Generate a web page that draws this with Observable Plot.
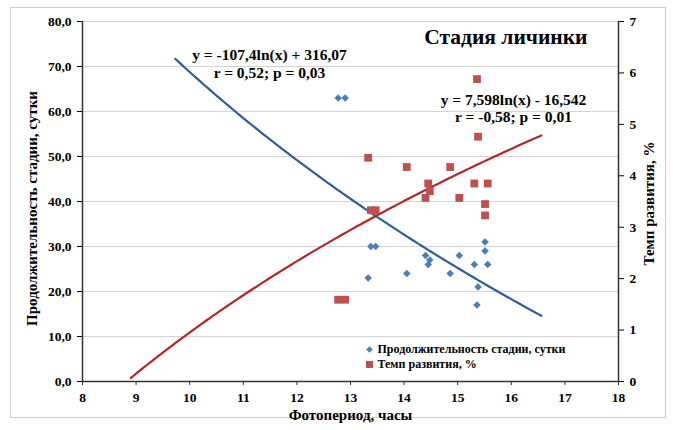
<!DOCTYPE html>
<html>
<head>
<meta charset="utf-8">
<script src="https://cdn.jsdelivr.net/npm/d3@7"></script>
<script src="https://cdn.jsdelivr.net/npm/@observablehq/plot@0.6"></script>
<style>
  html, body { margin: 0; padding: 0; background: #fff; }
  #wrap { position: relative; width: 673px; height: 430px; }
  #border { position: absolute; left: 10px; top: 7px; width: 656px; height: 411px; border: 1px solid #cfcfcf; box-sizing: border-box; pointer-events: none; }
</style>
</head>
<body>
<div id="wrap"><div id="border"></div></div>
<script>
// ---- data ----
const photoperiod = [12.77, 12.90, 13.38, 13.47, 13.33, 14.05, 14.40, 14.48, 14.45, 14.86, 15.03, 15.31, 15.38, 15.36, 15.51, 15.51, 15.56];
const duration    = [63, 63, 30, 30, 23, 24, 28, 27, 26, 24, 28, 26, 21, 17, 31, 29, 26];
const rate        = [1.59, 1.59, 3.33, 3.33, 4.35, 4.17, 3.57, 3.70, 3.85, 4.17, 3.57, 3.85, 4.76, 5.88, 3.23, 3.45, 3.85];

// trendline equations printed on the chart: y = a*ln(x) + b
const durTrend  = [-107.4, 316.07];   // a, b
const durRange  = [9.73, 16.56];
const rateTrend = [7.598, -16.542];
const rateRange = [8.9, 16.56];

const xTicks = [8, 9, 10, 11, 12, 13, 14, 15, 16, 17, 18];
const yTicks = [0, 10, 20, 30, 40, 50, 60, 70, 80];
const rTicks = [0, 1, 2, 3, 4, 5, 6, 7];

const titleText = "Стадия личинки";
const xLabel = "Фотопериод, часы";
const yLabel = "Продолжительность стадии, сутки";
const rLabel = "Темп развития, %";
const eq1 = ["y = -107,4ln(x) + 316,07", "r = 0,52; p = 0,03"];
const eq2 = ["y = 7,598ln(x) - 16,542", "r = -0,58; p = 0,01"];
const legendLabels = ["Продолжительность стадии, сутки", "Темп развития, %"];

// ---- derived ----
const Y_MAX = 80, R_MAX = 7;
const toY = v => v * Y_MAX / R_MAX;
const points = photoperiod.map((x, i) => ({x, dur: duration[i], rate: rate[i]}));
function trend([a, b], [x0, x1]) {
  const n = 120, out = [];
  for (let i = 0; i <= n; i++) { const x = x0 + (x1 - x0) * i / n; out.push({x, y: a * Math.log(x) + b}); }
  return out;
}
const durLine = trend(durTrend, durRange);
const rateLine = trend(rateTrend, rateRange).map(d => ({x: d.x, y: toY(d.y)}));

const BLUE = "#4a7ebb", BLUE_LINE = "#2f5d9b";
const RED = "#c0504d", RED_LINE = "#b0282a";
const FONT = "'Liberation Serif', 'Times New Roman', serif";

const one = {length: 1};
function label(text, opts) {
  return Plot.text(one, {text: [text], fontWeight: "bold", fill: "#000", lineAnchor: "middle", ...opts});
}

const chart = Plot.plot({
  width: 673,
  height: 430,
  marginLeft: 82,
  marginRight: 55,
  marginTop: 21,
  marginBottom: 49,
  style: {fontFamily: FONT, fontWeight: "bold", fontSize: "13.5px", color: "#000", background: "transparent", overflow: "visible"},
  x: {domain: [8, 18]},
  y: {domain: [0, Y_MAX]},
  marks: [
    Plot.gridY(yTicks.filter(d => d > 0), {stroke: "#d4d4d4", strokeOpacity: 1, strokeWidth: 1.2}),
    Plot.line(durLine, {x: "x", y: "y", stroke: BLUE_LINE, strokeWidth: 2.2}),
    Plot.line(rateLine, {x: "x", y: "y", stroke: RED_LINE, strokeWidth: 2.2}),
    Plot.dot(points, {x: "x", y: d => toY(d.rate), symbol: "square", r: 4.4, fill: RED, stroke: "none"}),
    Plot.dot(points, {x: "x", y: "dur", symbol: "diamond2", r: 3.4, fill: BLUE, stroke: "none"}),
    // axes
    Plot.axisX({ticks: xTicks, tickSize: 4, tickPadding: 7, tickFormat: d => String(d), label: null, stroke: "#333"}),
    Plot.axisY({ticks: yTicks, tickSize: 5, tickPadding: 6, tickFormat: d => d.toFixed(1).replace(".", ","), label: null}),
    Plot.axisY(rTicks.map(toY), {anchor: "right", tickSize: 5, tickPadding: 6, tickFormat: d => String(Math.round(d * R_MAX / Y_MAX)), label: null}),
    Plot.ruleX([8, 18], {stroke: "#333", strokeWidth: 1.5}),
    Plot.ruleY([0], {stroke: "#333", strokeWidth: 1.5}),
    // axis titles
    label(xLabel, {frameAnchor: "bottom", textAnchor: "middle", dy: 34, fontSize: 15}),
    label(yLabel, {frameAnchor: "left", textAnchor: "middle", dx: -50, dy: 7, rotate: -90, fontSize: 15}),
    label(rLabel, {frameAnchor: "right", textAnchor: "middle", dx: 31, dy: 2, rotate: -90, fontSize: 15}),
    // title
    label(titleText, {frameAnchor: "top-right", textAnchor: "end", dx: -31, dy: 16, fontSize: 21.5}),
    // equations
    label(eq1[0], {frameAnchor: "top-left", textAnchor: "middle", dx: 187, dy: 34, fontSize: 15.5}),
    label(eq1[1], {frameAnchor: "top-left", textAnchor: "middle", dx: 187, dy: 52, fontSize: 15.5}),
    label(eq2[0], {frameAnchor: "top-left", textAnchor: "middle", dx: 431, dy: 79, fontSize: 15.5}),
    label(eq2[1], {frameAnchor: "top-left", textAnchor: "middle", dx: 431, dy: 96, fontSize: 15.5}),
    // legend
    Plot.dot(one, {frameAnchor: "top-left", dx: 287, dy: 328, symbol: "diamond2", r: 3, fill: BLUE}),
    Plot.dot(one, {frameAnchor: "top-left", dx: 287, dy: 343, symbol: "square", r: 4, fill: RED}),
    label(legendLabels[0], {frameAnchor: "top-left", textAnchor: "start", dx: 295, dy: 328, fontSize: 12}),
    label(legendLabels[1], {frameAnchor: "top-left", textAnchor: "start", dx: 295, dy: 343, fontSize: 12})
  ]
});
document.getElementById("wrap").appendChild(chart);
chart.style.position = "absolute";
chart.style.left = "0px";
chart.style.top = "0px";
</script>
</body>
</html>
